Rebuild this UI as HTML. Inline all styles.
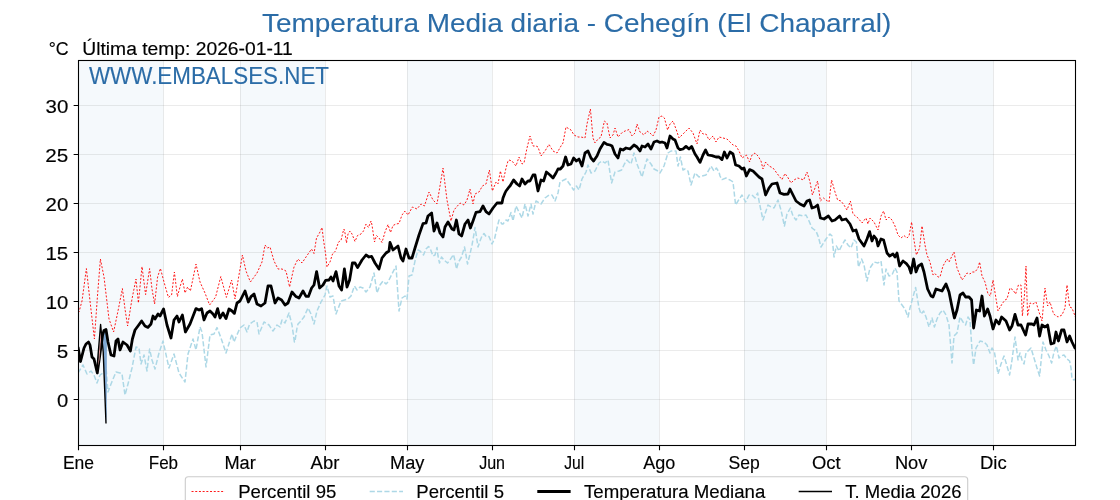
<!DOCTYPE html>
<html><head><meta charset="utf-8"><style>
html,body{margin:0;padding:0;background:#fff;width:1120px;height:500px;overflow:hidden}
svg{display:block;will-change:transform}
text{font-family:"Liberation Sans",sans-serif}
</style></head><body>
<svg width="1120" height="500" viewBox="0 0 1120 500">
<rect x="0" y="0" width="1120" height="500" fill="#fff"/>
<rect x="78.50" y="60.50" width="84.91" height="385.00" fill="#f5f9fc"/>
<rect x="240.10" y="60.50" width="84.91" height="385.00" fill="#f5f9fc"/>
<rect x="407.18" y="60.50" width="84.91" height="385.00" fill="#f5f9fc"/>
<rect x="574.26" y="60.50" width="84.91" height="385.00" fill="#f5f9fc"/>
<rect x="744.08" y="60.50" width="82.17" height="385.00" fill="#f5f9fc"/>
<rect x="911.16" y="60.50" width="82.17" height="385.00" fill="#f5f9fc"/>
<path d="M163.5 60.5V445.5M240.5 60.5V445.5M325.5 60.5V445.5M407.5 60.5V445.5M492.5 60.5V445.5M574.5 60.5V445.5M659.5 60.5V445.5M744.5 60.5V445.5M826.5 60.5V445.5M911.5 60.5V445.5M993.5 60.5V445.5" stroke="#808080" stroke-opacity="0.16" stroke-width="1" fill="none"/>
<path d="M78.5 399.5H1075.5M78.5 350.5H1075.5M78.5 301.5H1075.5M78.5 252.5H1075.5M78.5 203.5H1075.5M78.5 154.5H1075.5M78.5 105.5H1075.5" stroke="#808080" stroke-opacity="0.16" stroke-width="1" fill="none"/>
<defs><clipPath id="ax"><rect x="78.5" y="60.5" width="997" height="385"/></clipPath></defs>
<g clip-path="url(#ax)" fill="none" stroke-linejoin="round">
<path d="M78.0 312.0 L79.0 312.0 L82.0 301.0 L86.4 268.6 L90.0 301.0 L94.4 339.0 L97.4 297.0 L100.4 259.0 L104.0 277.0 L109.0 319.0 L113.6 332.0 L118.0 311.0 L122.4 288.6 L125.0 309.0 L127.6 326.0 L132.0 299.0 L136.0 279.0 L138.4 303.0 L142.0 266.6 L145.6 294.6 L149.6 268.6 L152.0 289.0 L154.6 304.0 L157.6 277.0 L160.4 268.4 L164.0 282.0 L168.4 297.4 L171.6 295.0 L174.4 272.0 L177.4 296.6 L180.0 287.0 L182.4 279.0 L185.0 293.0 L187.6 287.0 L190.4 291.0 L196.0 264.0 L200.0 282.0 L205.0 293.0 L209.6 305.0 L215.6 297.0 L220.8 276.6 L226.4 297.4 L231.6 280.0 L235.0 299.0 L239.0 275.0 L242.4 255.0 L246.0 271.0 L250.4 282.0 L257.0 273.0 L262.0 262.0 L265.0 245.0 L267.4 248.0 L270.0 247.0 L274.0 261.0 L278.0 269.0 L282.0 269.0 L286.0 271.0 L289.6 287.0 L294.0 267.0 L298.0 259.0 L302.0 263.0 L306.0 257.0 L311.5 249.0 L314.0 253.5 L316.5 238.0 L319.5 233.0 L322.0 227.5 L323.5 240.0 L325.5 253.0 L327.0 267.0 L330.0 262.0 L332.5 254.0 L335.5 251.0 L338.5 242.0 L341.0 240.5 L343.0 232.0 L344.0 229.0 L345.0 233.0 L346.5 243.0 L348.0 234.0 L350.0 231.0 L352.0 234.0 L355.0 241.5 L357.5 235.5 L361.0 234.0 L363.5 231.0 L366.0 224.0 L368.5 227.5 L371.0 221.0 L372.0 225.0 L374.5 242.0 L376.5 235.5 L379.0 238.0 L382.0 242.5 L385.0 232.0 L388.0 224.5 L390.5 232.5 L393.0 225.5 L396.0 224.0 L399.0 223.5 L402.0 215.0 L405.0 211.0 L408.0 215.0 L412.4 207.0 L417.0 209.0 L421.0 204.0 L424.4 206.0 L429.0 192.0 L433.0 200.0 L437.0 204.0 L443.0 168.0 L447.0 200.0 L451.0 221.0 L454.0 210.0 L460.0 203.0 L464.0 205.0 L467.0 200.0 L470.0 189.0 L473.0 204.0 L475.0 194.0 L479.0 192.0 L482.4 186.0 L486.0 184.0 L489.4 170.0 L492.4 191.0 L496.0 182.0 L498.0 184.0 L500.4 171.0 L503.0 182.0 L506.0 168.0 L508.0 161.0 L509.0 160.0 L512.0 161.0 L516.0 166.0 L519.0 157.0 L522.0 164.0 L524.0 163.0 L527.0 148.0 L530.0 136.0 L533.0 146.0 L536.0 146.0 L538.0 147.0 L541.0 156.0 L545.0 151.0 L549.0 144.4 L553.0 151.0 L557.0 153.0 L561.0 146.0 L563.0 143.0 L566.0 127.0 L571.0 130.0 L574.0 135.0 L578.0 137.0 L581.0 137.0 L585.0 138.0 L587.0 124.0 L590.4 109.0 L593.0 138.0 L595.0 143.0 L598.0 139.0 L601.0 137.0 L604.4 121.0 L607.0 123.0 L610.0 138.0 L613.0 135.0 L615.0 128.0 L618.0 137.0 L621.6 133.0 L625.0 131.0 L629.0 129.6 L632.0 136.0 L635.0 133.0 L637.0 124.0 L640.0 132.0 L644.0 135.0 L647.0 131.0 L650.0 133.0 L653.0 136.0 L656.0 130.0 L659.0 117.0 L662.0 116.0 L664.4 118.0 L667.6 130.0 L670.0 124.0 L673.0 121.0 L676.0 129.0 L679.0 138.0 L682.0 135.0 L686.0 131.0 L689.0 128.0 L693.0 133.0 L697.0 144.0 L700.0 130.0 L703.0 134.0 L706.0 134.0 L709.0 140.0 L713.0 136.0 L716.0 142.0 L719.0 137.0 L727.0 139.0 L730.0 142.0 L733.0 145.0 L736.0 146.0 L739.0 151.0 L742.0 158.0 L745.0 156.0 L746.4 155.0 L749.6 162.0 L752.0 155.0 L755.0 153.0 L758.0 156.0 L761.0 161.0 L763.0 169.0 L765.6 162.0 L769.0 166.0 L773.0 168.0 L776.0 172.0 L779.0 176.0 L782.0 179.6 L785.0 173.6 L787.6 177.0 L791.0 183.0 L794.0 180.0 L797.6 178.0 L801.0 179.0 L803.6 180.0 L807.0 172.0 L810.0 182.0 L812.4 195.0 L815.0 188.0 L817.6 181.0 L820.4 201.0 L823.6 198.0 L826.0 200.0 L829.0 202.0 L831.6 180.0 L835.0 192.0 L837.6 200.0 L841.0 201.0 L844.0 205.0 L847.0 210.0 L850.4 201.0 L853.0 214.0 L858.0 218.0 L862.0 223.0 L866.0 218.0 L868.0 224.0 L870.0 218.0 L874.0 222.0 L878.0 230.0 L881.0 216.0 L883.6 211.0 L886.0 220.0 L889.0 217.0 L892.0 220.0 L895.0 226.0 L898.0 235.0 L901.0 238.0 L904.0 235.6 L907.0 238.0 L909.0 236.0 L911.6 222.0 L914.0 240.0 L916.4 255.0 L919.6 248.0 L922.0 226.0 L925.0 245.0 L927.0 255.0 L930.0 262.0 L933.0 275.0 L935.0 273.6 L938.0 277.0 L940.0 277.0 L943.0 266.0 L947.0 259.0 L949.0 262.0 L954.0 252.0 L957.0 268.0 L962.0 280.0 L965.0 276.0 L967.0 273.0 L970.0 274.0 L972.0 272.0 L975.0 272.0 L978.0 268.0 L979.6 262.0 L982.0 276.0 L985.0 282.0 L988.0 294.0 L990.4 296.0 L993.0 280.0 L994.6 290.0 L998.0 311.0 L1002.0 304.0 L1005.0 300.0 L1007.0 299.0 L1010.0 288.0 L1013.0 290.0 L1015.6 294.0 L1018.4 285.0 L1021.0 285.0 L1022.4 316.0 L1024.4 296.0 L1026.0 266.0 L1027.6 316.0 L1030.0 303.0 L1033.0 304.0 L1036.0 302.0 L1039.0 312.0 L1042.0 321.0 L1045.0 288.0 L1047.6 306.0 L1050.0 302.0 L1053.6 314.0 L1058.0 317.0 L1062.0 315.0 L1065.0 308.0 L1067.0 285.0 L1069.6 307.0 L1072.0 308.0 L1075.4 317.0" stroke="#ff0000" stroke-width="0.9" stroke-dasharray="2.0 1.7"/>
<path d="M78.0 373.0 L83.0 365.0 L87.0 374.0 L91.0 371.0 L94.0 375.0 L97.0 383.0 L100.0 375.0 L103.0 373.0 L106.0 367.0 L108.0 392.0 L111.0 384.0 L116.0 372.0 L120.0 373.0 L122.0 374.0 L125.0 395.0 L128.0 384.0 L132.0 368.0 L136.0 347.0 L139.0 348.0 L141.0 364.0 L144.0 355.0 L147.0 371.0 L149.6 349.0 L152.0 360.0 L155.0 369.0 L159.0 353.0 L163.0 341.0 L169.0 368.0 L174.0 354.0 L179.0 373.0 L185.0 382.0 L188.0 354.0 L193.0 339.0 L196.0 350.0 L200.0 327.0 L202.0 332.0 L206.0 367.0 L210.0 335.0 L214.0 334.0 L217.0 327.6 L221.0 338.0 L226.0 353.0 L232.0 334.0 L234.0 342.0 L236.0 337.0 L240.0 328.0 L244.0 325.0 L247.0 332.0 L249.6 324.0 L254.0 321.0 L257.0 322.0 L259.0 334.0 L264.0 322.0 L269.0 325.0 L273.0 331.0 L277.0 325.0 L280.0 327.0 L282.0 320.0 L285.0 323.0 L289.0 313.0 L292.0 325.0 L294.4 342.0 L295.0 341.0 L297.0 328.0 L298.0 324.0 L300.0 322.0 L304.0 317.0 L308.0 308.0 L311.0 314.0 L314.0 324.0 L317.0 311.0 L321.0 302.0 L325.0 295.0 L327.0 286.0 L330.0 297.0 L333.0 296.0 L336.0 314.0 L341.0 301.0 L348.0 299.0 L351.0 296.0 L354.4 286.0 L357.0 290.0 L360.0 287.0 L363.0 288.0 L366.0 292.0 L370.0 287.0 L374.0 273.0 L377.0 293.0 L380.0 285.0 L383.0 281.0 L386.0 284.0 L388.0 282.0 L392.0 274.0 L396.0 266.0 L399.0 311.0 L402.0 298.0 L405.0 296.0 L407.0 299.0 L409.0 276.0 L412.0 275.0 L415.0 261.0 L418.0 250.0 L420.0 251.0 L423.5 255.0 L426.0 249.0 L428.5 246.5 L430.0 248.0 L433.0 256.0 L435.0 255.0 L437.0 247.5 L438.0 256.0 L439.5 263.0 L441.5 257.0 L444.0 260.0 L447.5 263.0 L450.0 260.0 L453.5 254.5 L454.5 258.5 L456.5 269.0 L458.5 262.0 L461.5 257.0 L464.5 247.0 L466.0 255.0 L467.5 264.0 L470.0 254.0 L472.0 245.0 L474.0 234.0 L475.0 227.5 L476.5 237.0 L478.0 247.0 L480.0 241.0 L482.0 236.0 L484.0 233.5 L486.0 236.5 L489.0 236.5 L492.0 244.0 L494.5 239.0 L497.0 228.0 L499.0 220.0 L502.0 224.0 L503.0 224.0 L506.0 220.0 L508.0 221.0 L509.0 218.0 L511.0 212.4 L513.0 221.0 L516.0 206.0 L519.0 212.0 L522.0 218.0 L525.0 204.0 L528.0 216.0 L531.0 204.0 L533.0 214.0 L536.0 201.0 L541.0 204.0 L545.0 198.0 L549.0 195.0 L552.0 195.0 L555.0 201.0 L558.0 193.0 L560.0 182.0 L566.0 179.0 L571.0 186.0 L573.6 190.0 L576.4 186.0 L579.0 190.0 L582.0 179.0 L586.0 172.0 L588.0 165.0 L591.0 173.0 L595.0 171.0 L599.0 163.0 L602.0 161.0 L605.0 163.0 L608.0 160.0 L611.6 183.0 L615.0 172.0 L619.0 171.0 L621.6 170.0 L624.4 164.0 L627.0 160.0 L631.0 164.0 L634.0 153.0 L637.0 164.0 L642.0 177.0 L647.0 159.0 L651.0 164.0 L654.0 169.0 L658.0 171.0 L660.0 173.0 L664.0 166.0 L668.0 153.0 L671.0 151.0 L674.0 151.0 L676.0 151.0 L678.0 166.0 L680.4 157.0 L683.0 170.0 L685.0 169.0 L688.0 171.0 L691.0 185.0 L695.0 173.0 L699.0 177.0 L702.0 176.0 L706.0 175.0 L711.0 166.0 L714.0 171.0 L716.4 168.0 L717.0 169.0 L719.0 172.0 L720.0 176.0 L722.0 179.6 L726.0 178.0 L730.0 180.0 L733.0 182.0 L735.6 205.0 L738.0 201.0 L742.0 195.0 L745.6 202.0 L749.0 195.0 L752.0 195.0 L755.0 198.0 L757.6 193.0 L759.6 204.0 L763.0 220.0 L768.0 205.0 L771.0 207.0 L774.0 208.0 L778.0 200.0 L781.0 210.0 L784.4 226.0 L787.0 214.0 L790.4 208.0 L793.0 216.0 L796.0 220.0 L799.0 215.0 L803.0 216.0 L806.0 215.0 L809.0 221.0 L812.0 228.0 L816.0 231.0 L818.4 237.0 L821.0 247.0 L826.0 239.0 L830.0 234.0 L832.0 236.0 L834.0 257.0 L836.4 246.0 L839.0 251.0 L842.0 245.0 L845.0 240.0 L848.0 245.0 L851.0 248.0 L854.0 240.0 L856.4 242.0 L858.4 267.0 L861.6 259.0 L864.0 265.0 L867.0 281.0 L870.0 268.0 L874.0 262.0 L878.0 263.0 L881.0 261.0 L884.0 285.0 L886.0 269.0 L889.0 276.0 L892.0 275.0 L895.0 268.0 L897.0 272.0 L899.0 301.0 L902.0 305.0 L905.0 309.0 L908.0 317.0 L910.0 308.0 L915.6 287.4 L919.0 308.0 L921.0 314.0 L923.6 311.0 L926.0 317.0 L929.0 327.0 L932.0 318.0 L934.4 327.0 L937.0 319.0 L940.0 313.0 L943.0 310.0 L946.0 315.0 L949.0 325.0 L952.0 363.0 L954.0 336.0 L957.0 333.0 L960.0 317.0 L963.0 322.0 L965.6 325.0 L968.0 317.0 L970.0 320.0 L972.0 350.0 L973.6 365.0 L976.0 348.0 L980.0 341.0 L984.0 342.0 L987.0 345.0 L990.0 353.0 L992.0 348.0 L994.4 352.0 L998.0 374.0 L1001.0 364.0 L1004.0 356.0 L1007.0 366.0 L1009.6 375.0 L1012.0 360.0 L1015.0 337.0 L1018.0 360.0 L1020.0 353.0 L1022.0 360.0 L1024.0 364.0 L1026.0 353.0 L1028.0 351.0 L1031.0 348.0 L1034.0 358.0 L1037.0 368.0 L1039.6 376.0 L1043.0 342.0 L1046.0 350.0 L1049.0 356.0 L1051.6 363.0 L1054.0 352.0 L1056.4 346.0 L1059.0 358.0 L1061.0 356.0 L1064.0 355.0 L1067.0 359.0 L1069.6 361.0 L1071.0 368.0 L1072.0 379.0 L1074.0 380.0 L1076.4 378.0" stroke="#add8e6" stroke-width="1.5" stroke-dasharray="5.14 2.22"/>
<path d="M101.9 338 L103.2 352 L106 423.5 L106.8 414 L106.9 331 L104 330.5 Z" fill="#7fa9d4" stroke="none"/>
<path d="M78.0 347.0 L80.5 361.5 L84.0 348.0 L86.0 344.0 L88.5 342.0 L90.0 345.0 L92.0 357.0 L94.0 359.0 L97.3 373.0 L100.2 352.0 L102.6 335.0 L104.0 330.5 L106.0 329.5 L108.0 342.0 L111.0 355.0 L114.0 356.0 L116.0 341.0 L118.0 339.0 L120.0 350.0 L123.0 342.0 L127.0 345.0 L130.4 351.0 L132.4 339.0 L135.0 330.0 L138.0 326.0 L141.6 321.0 L145.0 326.0 L148.0 327.4 L151.0 324.0 L153.0 316.0 L155.0 319.0 L158.0 314.0 L160.0 316.0 L163.6 309.0 L167.0 325.0 L171.0 338.0 L174.0 320.0 L177.0 316.0 L179.0 322.0 L182.4 315.0 L185.4 332.0 L190.0 324.0 L196.0 308.6 L199.0 310.0 L201.6 308.6 L204.0 320.0 L207.0 313.0 L210.0 311.0 L213.0 314.0 L215.0 317.0 L217.6 308.6 L220.0 318.0 L223.0 313.0 L226.0 318.6 L229.0 309.0 L232.0 311.0 L234.4 313.4 L237.0 303.0 L240.0 301.0 L245.0 291.0 L248.4 302.0 L251.0 296.6 L254.0 294.0 L257.0 304.0 L261.0 306.0 L265.0 303.0 L268.0 286.0 L271.0 286.0 L275.0 303.0 L278.0 298.0 L281.6 300.0 L285.0 305.0 L288.0 303.0 L292.0 292.0 L296.0 296.6 L299.0 298.0 L303.0 291.0 L306.0 296.4 L308.4 296.4 L311.6 288.0 L314.0 285.0 L316.6 271.6 L319.6 288.0 L323.0 285.0 L325.6 280.4 L329.0 280.0 L331.0 277.0 L333.0 281.0 L336.0 271.6 L339.0 286.0 L341.6 290.0 L344.4 269.0 L347.0 287.0 L349.6 280.0 L352.4 263.0 L355.0 263.0 L357.6 267.6 L362.0 260.0 L366.0 255.0 L369.0 257.0 L371.6 256.4 L375.0 263.0 L379.0 269.0 L382.0 258.0 L386.0 253.0 L389.0 251.0 L390.0 242.4 L393.0 250.0 L398.0 246.0 L401.0 258.0 L403.0 261.0 L406.0 249.0 L409.0 258.0 L412.0 258.0 L415.0 248.0 L419.0 235.0 L423.0 223.6 L426.0 223.0 L428.0 216.0 L431.6 213.0 L434.0 231.0 L437.0 223.0 L440.0 233.0 L443.0 237.0 L445.0 227.0 L448.0 222.0 L452.0 229.0 L454.0 230.0 L456.4 220.0 L459.0 234.0 L461.6 236.0 L465.0 224.0 L468.0 220.0 L470.4 228.0 L473.0 221.0 L476.0 212.4 L480.0 211.6 L483.0 206.0 L486.0 211.6 L489.0 214.0 L493.0 208.0 L497.0 203.0 L502.0 203.0 L503.0 198.0 L505.0 193.0 L506.0 191.0 L509.0 187.0 L510.0 186.0 L513.6 180.0 L517.0 184.0 L519.6 186.0 L522.0 179.0 L525.0 184.0 L528.0 181.0 L530.0 181.0 L533.0 175.0 L535.0 175.0 L538.0 191.0 L541.0 180.0 L543.6 181.0 L546.4 172.0 L550.0 175.0 L553.0 178.0 L556.0 173.0 L558.0 169.0 L560.4 169.0 L563.0 166.0 L565.6 157.0 L568.0 165.0 L571.0 164.0 L573.6 158.0 L576.4 161.0 L579.0 159.0 L582.0 166.0 L585.0 153.0 L588.0 151.0 L591.0 158.0 L593.6 161.0 L597.0 156.0 L600.0 149.0 L604.0 142.4 L607.0 144.4 L610.0 145.0 L612.0 146.0 L615.0 154.0 L618.0 158.0 L620.4 149.0 L623.0 150.0 L626.0 148.0 L630.0 149.0 L634.0 145.0 L637.0 147.0 L640.0 151.0 L642.0 146.0 L645.0 147.0 L648.0 144.0 L651.0 149.0 L654.0 142.0 L657.0 141.0 L660.0 142.4 L662.0 142.0 L665.0 143.0 L667.0 148.0 L670.0 136.0 L673.0 139.0 L675.0 140.0 L678.0 148.0 L680.0 149.6 L683.0 149.0 L686.0 146.4 L689.0 149.0 L691.6 146.4 L695.0 154.0 L697.0 157.0 L700.0 162.4 L703.0 155.0 L705.6 150.0 L708.0 155.0 L712.0 155.6 L716.0 157.0 L719.0 157.0 L722.0 159.6 L724.4 152.0 L727.0 158.0 L730.0 152.0 L733.0 154.0 L735.6 165.0 L739.0 166.0 L742.0 169.0 L744.0 168.0 L746.4 176.0 L749.6 169.6 L753.0 171.0 L756.0 174.0 L759.0 177.0 L762.0 179.0 L765.6 195.0 L769.0 188.0 L772.0 184.0 L777.0 183.0 L780.0 193.0 L784.0 194.4 L788.0 194.0 L790.0 189.0 L793.0 195.0 L796.0 201.0 L800.0 204.0 L804.0 206.0 L807.0 201.0 L809.6 200.0 L812.0 208.0 L815.0 207.0 L817.6 205.0 L820.4 218.0 L824.0 219.0 L828.4 216.0 L832.0 221.0 L835.0 220.0 L839.6 216.0 L842.0 220.0 L846.0 219.0 L850.0 224.0 L853.0 231.0 L856.0 230.0 L859.0 239.0 L864.0 246.0 L867.0 239.0 L869.6 231.6 L872.0 241.0 L874.0 236.0 L876.4 239.0 L878.0 246.0 L881.0 239.0 L883.6 240.0 L887.0 253.0 L889.6 256.0 L893.0 254.0 L895.0 257.0 L897.0 253.0 L899.6 266.0 L903.0 261.0 L906.4 263.6 L909.0 267.0 L911.0 273.0 L913.6 259.0 L916.0 272.0 L918.4 266.0 L921.6 264.0 L924.0 272.0 L927.6 289.0 L931.0 296.0 L933.0 297.0 L936.0 289.0 L939.0 290.0 L942.0 291.0 L946.0 284.0 L949.0 292.0 L952.0 307.0 L954.4 318.0 L957.0 310.0 L960.0 295.0 L963.0 293.0 L965.6 297.0 L969.0 297.0 L971.6 300.0 L973.6 328.0 L976.4 310.0 L979.6 311.0 L982.0 296.0 L984.4 316.0 L987.6 309.0 L990.0 316.0 L993.0 329.0 L996.0 320.0 L999.0 324.0 L1001.6 317.0 L1006.0 321.0 L1009.6 330.0 L1012.0 326.0 L1015.0 314.4 L1018.0 325.0 L1021.0 325.0 L1025.6 335.0 L1028.0 324.0 L1032.0 324.0 L1034.0 325.0 L1037.0 318.0 L1039.6 336.0 L1042.0 325.0 L1045.0 327.0 L1047.6 325.0 L1051.0 344.0 L1054.0 343.0 L1056.0 332.0 L1058.4 341.0 L1061.6 330.0 L1064.0 330.0 L1067.0 342.0 L1069.6 336.0 L1072.0 342.0 L1075.4 349.0" stroke="#000" stroke-width="2.78"/>
<path d="M97.9 366 L100.5 330 L101.4 333 L99.4 360 Z" fill="#e39a9a" stroke="none"/>
<path d="M78.0 347.0 L80.5 361.5 L84.0 348.0 L86.0 344.0 L88.5 342.0 L90.0 345.0 L92.0 357.0 L94.0 359.0 L96.8 370.0 L100.6 324.5 L103.2 352.0 L106.0 423.5" stroke="#000" stroke-width="1.39"/>
</g>
<rect x="78.5" y="60.5" width="997.0" height="385.0" fill="none" stroke="#000" stroke-width="1.1"/>
<path d="M78.5 445.5v4.86M163.5 445.5v4.86M240.5 445.5v4.86M325.5 445.5v4.86M407.5 445.5v4.86M492.5 445.5v4.86M574.5 445.5v4.86M659.5 445.5v4.86M744.5 445.5v4.86M826.5 445.5v4.86M911.5 445.5v4.86M993.5 445.5v4.86M78.5 399.5h-4.86M78.5 350.5h-4.86M78.5 301.5h-4.86M78.5 252.5h-4.86M78.5 203.5h-4.86M78.5 154.5h-4.86M78.5 105.5h-4.86" stroke="#000" stroke-width="1.1" fill="none"/>
<text x="68.30" y="406.50" font-size="19.14" fill="#000" stroke="#000" stroke-width="0.15" text-anchor="end" textLength="11.25" lengthAdjust="spacingAndGlyphs">0</text>
<text x="68.30" y="357.50" font-size="19.14" fill="#000" stroke="#000" stroke-width="0.15" text-anchor="end" textLength="11.50" lengthAdjust="spacingAndGlyphs">5</text>
<text x="68.30" y="308.50" font-size="19.14" fill="#000" stroke="#000" stroke-width="0.15" text-anchor="end" textLength="22.62" lengthAdjust="spacingAndGlyphs">10</text>
<text x="68.30" y="259.50" font-size="19.14" fill="#000" stroke="#000" stroke-width="0.15" text-anchor="end" textLength="22.88" lengthAdjust="spacingAndGlyphs">15</text>
<text x="68.30" y="210.50" font-size="19.14" fill="#000" stroke="#000" stroke-width="0.15" text-anchor="end" textLength="22.75" lengthAdjust="spacingAndGlyphs">20</text>
<text x="68.30" y="161.50" font-size="19.14" fill="#000" stroke="#000" stroke-width="0.15" text-anchor="end" textLength="23.00" lengthAdjust="spacingAndGlyphs">25</text>
<text x="68.30" y="112.50" font-size="19.14" fill="#000" stroke="#000" stroke-width="0.15" text-anchor="end" textLength="22.75" lengthAdjust="spacingAndGlyphs">30</text>
<text x="78.50" y="468.50" font-size="17.66" fill="#000" stroke="#000" stroke-width="0.15" text-anchor="middle" textLength="31.12" lengthAdjust="spacingAndGlyphs">Ene</text>
<text x="163.41" y="468.50" font-size="17.66" fill="#000" stroke="#000" stroke-width="0.15" text-anchor="middle" textLength="29.38" lengthAdjust="spacingAndGlyphs">Feb</text>
<text x="240.10" y="468.50" font-size="17.66" fill="#000" stroke="#000" stroke-width="0.15" text-anchor="middle" textLength="31.38" lengthAdjust="spacingAndGlyphs">Mar</text>
<text x="325.01" y="468.50" font-size="17.66" fill="#000" stroke="#000" stroke-width="0.15" text-anchor="middle" textLength="28.75" lengthAdjust="spacingAndGlyphs">Abr</text>
<text x="407.18" y="468.50" font-size="17.66" fill="#000" stroke="#000" stroke-width="0.15" text-anchor="middle" textLength="34.38" lengthAdjust="spacingAndGlyphs">May</text>
<text x="492.09" y="468.50" font-size="17.66" fill="#000" stroke="#000" stroke-width="0.15" text-anchor="middle" textLength="25.88" lengthAdjust="spacingAndGlyphs">Jun</text>
<text x="574.26" y="468.50" font-size="17.66" fill="#000" stroke="#000" stroke-width="0.15" text-anchor="middle" textLength="20.00" lengthAdjust="spacingAndGlyphs">Jul</text>
<text x="659.17" y="468.50" font-size="17.66" fill="#000" stroke="#000" stroke-width="0.15" text-anchor="middle" textLength="32.00" lengthAdjust="spacingAndGlyphs">Ago</text>
<text x="744.08" y="468.50" font-size="17.66" fill="#000" stroke="#000" stroke-width="0.15" text-anchor="middle" textLength="31.25" lengthAdjust="spacingAndGlyphs">Sep</text>
<text x="826.25" y="468.50" font-size="17.66" fill="#000" stroke="#000" stroke-width="0.15" text-anchor="middle" textLength="28.62" lengthAdjust="spacingAndGlyphs">Oct</text>
<text x="911.16" y="468.50" font-size="17.66" fill="#000" stroke="#000" stroke-width="0.15" text-anchor="middle" textLength="32.50" lengthAdjust="spacingAndGlyphs">Nov</text>
<text x="993.33" y="468.50" font-size="17.66" fill="#000" stroke="#000" stroke-width="0.15" text-anchor="middle" textLength="26.62" lengthAdjust="spacingAndGlyphs">Dic</text>
<text x="262.00" y="32.00" font-size="26.49" fill="#2b6ca7" stroke="#2b6ca7" stroke-width="0.1" text-anchor="start" textLength="629.25" lengthAdjust="spacingAndGlyphs">Temperatura Media diaria - Cehegín (El Chaparral)</text>
<text x="89.00" y="84.00" font-size="23.54" fill="#2b6ca7" stroke="#2b6ca7" stroke-width="0.12" text-anchor="start" textLength="240.00" lengthAdjust="spacingAndGlyphs">WWW.EMBALSES.NET</text>
<text x="48.70" y="54.60" font-size="17.66" fill="#000" stroke="#000" stroke-width="0.15" text-anchor="start" textLength="19.88" lengthAdjust="spacingAndGlyphs">°C</text>
<text x="82.30" y="54.60" font-size="17.66" fill="#000" stroke="#000" stroke-width="0.15" text-anchor="start" textLength="210.50" lengthAdjust="spacingAndGlyphs">Última temp: 2026-01-11</text>
<rect x="185.3" y="476.7" width="782.4" height="40" rx="3" ry="3" fill="#fff" fill-opacity="0.8" stroke="#ccc" stroke-width="1.1"/>
<line x1="191.54" y1="491.5" x2="224.88" y2="491.5" stroke="#ff0000" stroke-width="0.9" stroke-dasharray="2.0 1.7"/>
<line x1="369.67" y1="491.5" x2="403.0" y2="491.5" stroke="#add8e6" stroke-width="1.4" stroke-dasharray="5.14 2.22"/>
<line x1="537.29" y1="491.5" x2="570.63" y2="491.5" stroke="#000" stroke-width="2.8"/>
<line x1="798.67" y1="491.5" x2="832.0" y2="491.5" stroke="#000" stroke-width="1.4"/>
<text x="238.21" y="497.60" font-size="17.66" fill="#000" stroke="#000" stroke-width="0.15" text-anchor="start" textLength="98.12" lengthAdjust="spacingAndGlyphs">Percentil 95</text>
<text x="416.33" y="497.60" font-size="17.66" fill="#000" stroke="#000" stroke-width="0.15" text-anchor="start" textLength="87.62" lengthAdjust="spacingAndGlyphs">Percentil 5</text>
<text x="583.96" y="497.60" font-size="17.66" fill="#000" stroke="#000" stroke-width="0.15" text-anchor="start" textLength="181.38" lengthAdjust="spacingAndGlyphs">Temperatura Mediana</text>
<text x="845.33" y="497.60" font-size="17.66" fill="#000" stroke="#000" stroke-width="0.15" text-anchor="start" textLength="116.12" lengthAdjust="spacingAndGlyphs">T. Media 2026</text>
</svg>
</body></html>
